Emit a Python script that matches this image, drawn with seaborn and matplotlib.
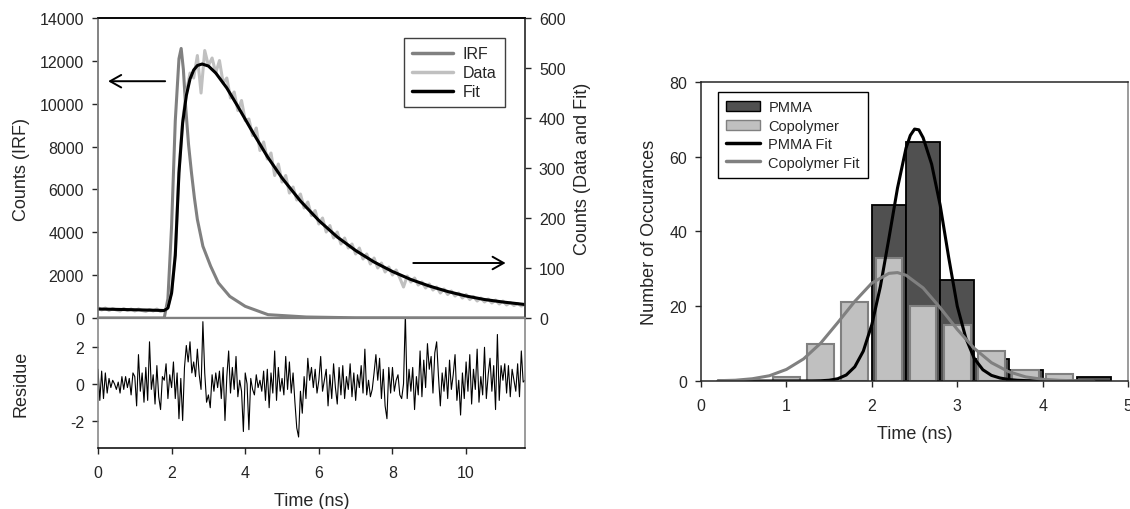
import numpy as np
import seaborn as sns
import matplotlib
matplotlib.use("Agg")
import matplotlib.pyplot as plt
from matplotlib.patches import Patch
from matplotlib.lines import Line2D

# ---- decay trace (left) ----
irf_t = [0, 1.8, 1.9, 2.0, 2.1, 2.2, 2.26, 2.32, 2.38, 2.46, 2.54, 2.62, 2.7,
         2.85, 3.06, 3.27, 3.58, 4.0, 4.62, 5.66, 7.0, 11.6]
irf_counts = [0, 0, 900, 4300, 9200, 12100, 12580, 11600, 9900, 8100, 6780,
              5600, 4600, 3350, 2420, 1640, 1010, 545, 156, 47, 10, 0]

# data sampled every 0.1 ns from 0
data_counts = [
    21, 16, 20, 15, 19, 16, 14, 19, 15, 18,
    14, 18, 15, 13, 17, 14, 18, 13, 15, 22,
    52, 130, 295, 395, 450, 490, 480, 525, 450, 535,
    505, 520, 490, 515, 470, 480, 440, 452, 415, 435,
    395, 398, 365, 380, 335, 352, 318, 330, 285, 308,
    272, 285, 250, 262, 236, 248, 220, 232, 205, 215,
    188, 200, 172, 185, 160, 172, 148, 160, 140, 148,
    128, 140, 118, 128, 108, 120, 100, 110, 92, 102,
    86, 96, 80, 62, 84, 72, 80, 66, 72, 60,
    68, 56, 62, 50, 58, 47, 54, 44, 50, 40,
    47, 37, 43, 34, 40, 32, 38, 30, 36, 28,
    34, 26, 31, 25, 29, 24, 27]

fit_t = [0, 1.0, 1.8, 1.9, 2.0, 2.1, 2.2, 2.3, 2.4, 2.5, 2.6, 2.7, 2.83, 3.0,
         3.2, 3.5, 3.8, 4.2, 4.6, 5.0, 5.5, 6.0, 6.5, 7.0, 7.5, 8.0, 8.5,
         9.0, 9.5, 10.0, 10.5, 11.0, 11.6]
fit_counts = [18, 16.5, 15, 20, 50, 125, 290, 390, 445, 478, 496, 505, 508, 504,
              490, 460, 423, 372, 323, 280, 234, 195, 162, 135, 112, 93, 77,
              64, 53, 44, 37, 32, 27]

# weighted residuals every 0.05 ns from 0
residue = [
    0.8, -0.9, 0.7, -0.8, 0.6, -0.5, 0.3, -0.2, 0.2, 0.0, -0.3, 0.1, -0.5, 0.4, -0.3, 0.4, -0.2, 0.3, -0.6, 0.6,
    0.4, -1.2, 1.6, -0.4, 0.6, -1.0, 0.9, -0.9, 2.3, -0.3, 0.5, -1.1, 1.0, -0.7, -1.4, 0.4, 0.2, 1.1, -0.8, 0.5,
    -0.2, 1.2, -0.8, 0.6, -1.9, 0.3, -2.0, 0.9, 2.1, 1.2, 2.3, 0.6, 1.2, 0.4, 1.9, 0.5, -0.3, 3.4, 0.6, -1.0,
    -0.6, -1.3, 0.5, -0.4, 0.6, -0.2, 0.7, -0.8, 0.9, -2.0, 0.4, 1.8, -0.5, 0.9, -0.3, 1.5, -0.7, 0.2, -0.4, -2.6,
    0.6, 0.0, -2.5, 0.3, -0.3, -0.6, 0.5, -0.2, 0.2, -0.4, 0.7, -0.9, 0.8, -1.3, 0.6, -0.5, 1.8, -0.9, 0.9, -0.4,
    0.3, -0.6, 1.5, -0.3, 1.2, -0.5, 0.6, -1.0, -2.4, -2.9, -0.4, -1.6, 0.4, -0.8, 1.4, 0.2, 0.9, -0.2, 0.8, -0.5,
    0.2, 1.5, -0.4, 0.2, 0.8, -1.2, 0.5, -0.8, 1.1, -0.2, -1.1, 0.9, -0.6, 1.0, -0.8, 0.4, -0.3, 1.1, -0.7, 0.6,
    -0.9, 0.5, -0.2, 1.0, -0.5, 1.9, -0.6, 0.2, -0.7, -0.3, 0.6, 1.6, 0.2, 1.4, -0.8, 0.8, -1.2, -1.9, 0.9, -0.5,
    0.9, -0.4, 0.2, 0.5, -0.6, -0.8, 0.0, 3.8, -0.8, 0.8, -0.4, 0.9, -1.4, 0.4, -0.6, 1.8, -0.7, 1.3, -0.2, 2.2,
    0.8, 1.5, -0.5, 1.7, 2.3, 0.4, -1.2, 0.6, -0.4, 0.9, -0.8, 1.3, -0.3, 0.5, 1.6, -0.9, 0.2, -1.7, 0.6, -0.8,
    1.2, -0.4, 1.6, -1.1, 0.8, -0.3, 1.9, -1.0, 0.4, -0.6, 2.0, -0.8, 0.5, 1.4, -0.4, 1.0, -1.4, 2.7, -0.9, 1.0,
    0.2, 1.1, -0.5, 1.0, -0.7, 0.8, 0.2, -0.4, 1.1, -0.7, 1.8, 0.1, 0.2]

# ---- lifetime histogram (right) ----
pmma_centers = [2.2, 2.6, 3.0, 3.4, 3.8, 4.2, 4.6]
pmma_counts = [47, 64, 27, 6, 3, 0, 1]
pmma_edges = [2.0, 2.4, 2.8, 3.2, 3.6, 4.0, 4.4, 4.8]
copo_centers = [1.0, 1.4, 1.8, 2.2, 2.6, 3.0, 3.4, 3.8, 4.2]
copo_counts = [1, 10, 21, 33, 20, 15, 8, 3, 2]
copo_edges = [0.8, 1.2, 1.6, 2.0, 2.4, 2.8, 3.2, 3.6, 4.0, 4.4]

pmma_fit_t = [0.2, 0.6, 1.0, 1.3, 1.4, 1.5, 1.6, 1.7, 1.8, 1.9, 2.0, 2.1, 2.2, 2.3,
              2.4, 2.45, 2.5, 2.55, 2.6, 2.7, 2.8, 2.9, 3.0, 3.1, 3.2, 3.3, 3.4,
              3.5, 3.6, 3.7, 3.8, 4.0, 4.6]
pmma_fit = [0, 0, 0, 0.02, 0.06, 0.2, 0.6, 1.6, 3.8, 8.0, 15.1, 25.3, 38.2, 51.6,
            62.3, 65.7, 67.4, 67.2, 65.1, 58, 47, 33, 20, 11.5, 6, 3, 1.5,
            0.8, 0.4, 0.2, 0.1, 0.03, 0]
copo_fit_t = [0.2, 0.4, 0.6, 0.8, 1.0, 1.2, 1.4, 1.6, 1.8, 2.0, 2.2, 2.3, 2.4, 2.6,
              2.8, 3.0, 3.2, 3.4, 3.6, 3.8, 4.0, 4.2, 4.4, 4.6]
copo_fit = [0.08, 0.2, 0.6, 1.4, 3.1, 5.9, 10.1, 15.6, 21.3, 26.2, 28.8, 29.0, 28.3,
            24.9, 19.6, 13.8, 8.7, 4.9, 2.5, 1.1, 0.45, 0.17, 0.05, 0.01]

sns.set_style("ticks")
plt.rcParams['font.family'] = ['Liberation Sans', 'DejaVu Sans']
plt.rcParams['axes.linewidth'] = 1.1
plt.rcParams['axes.unicode_minus'] = False
GRAY = '#808080'
LIGHT = '#c0c0c0'
TICK_FS = 11.5
LABEL_FS = 13

fig = plt.figure(figsize=(11.3, 5.1), dpi=100)
ax_top = fig.add_axes([0.0867, 0.3745, 0.3779, 0.5882])
ax_res = fig.add_axes([0.0867, 0.1196, 0.3779, 0.2549])
ax_hist = fig.add_axes([0.6204, 0.251, 0.3779, 0.5863])
ax_cnt = ax_top.twinx()

# decay curves
sns.lineplot(x=irf_t, y=irf_counts, ax=ax_top, color=GRAY, linewidth=2.2)
data_t = np.round(np.arange(len(data_counts)) * 0.1, 2)
sns.lineplot(x=data_t, y=data_counts, ax=ax_cnt, color=LIGHT, linewidth=2.2)
sns.lineplot(x=fit_t, y=fit_counts, ax=ax_cnt, color='black', linewidth=2.2)

ax_top.set_xlim(0, 11.6)
ax_top.set_ylim(0, 14000)
ax_cnt.set_ylim(0, 600)
ax_top.set_yticks(range(0, 14001, 2000))
ax_cnt.set_yticks(range(0, 601, 100))
ax_top.tick_params(axis='x', bottom=False, labelbottom=False)
ax_top.tick_params(axis='y', direction='out', length=4, width=1, pad=6, labelsize=TICK_FS)
ax_cnt.tick_params(axis='y', direction='out', length=4, width=1, pad=6, labelsize=TICK_FS)
ax_top.set_ylabel('Counts (IRF)', fontsize=LABEL_FS)
ax_top.yaxis.set_label_coords(-0.16, 0.5)
ax_cnt.set_ylabel('Counts (Data and Fit)', fontsize=LABEL_FS, labelpad=6)
for a in (ax_top, ax_cnt):
    a.spines['left'].set_color(GRAY)
    a.spines['right'].set_color('#404040')
    a.spines['bottom'].set_color(GRAY)
    a.spines['bottom'].set_linewidth(1.6)
    a.spines['top'].set_color('black')

ax_cnt.annotate('', xy=(0.2, 473.6), xytext=(1.9, 473.6),
                arrowprops=dict(arrowstyle='->,head_length=0.8,head_width=0.45', lw=1.4, color='black'))
ax_cnt.annotate('', xy=(11.15, 110), xytext=(8.49, 110),
                arrowprops=dict(arrowstyle='->,head_length=0.8,head_width=0.45', lw=1.4, color='black'))

handles = [Line2D([], [], color=GRAY, lw=2.5, label='IRF'),
           Line2D([], [], color=LIGHT, lw=2.5, label='Data'),
           Line2D([], [], color='black', lw=2.5, label='Fit')]
leg = ax_cnt.legend(handles=handles, loc='upper right', bbox_to_anchor=(0.952, 0.932),
                    borderaxespad=0, fontsize=11.5, frameon=True, fancybox=False,
                    framealpha=1, edgecolor='#404040', handlelength=2.6,
                    labelspacing=0.25, handletextpad=0.6, borderpad=0.5)
leg.get_frame().set_linewidth(1.0)

# residuals
res_t = np.round(np.arange(len(residue)) * 0.05, 2)
sns.lineplot(x=res_t, y=residue, ax=ax_res, color='black', linewidth=0.8)
ax_res.set_xlim(0, 11.6)
ax_res.set_ylim(-3.5, 3.6)
ax_res.set_yticks([-2, 0, 2])
ax_res.set_xticks(range(0, 11, 2))
ax_res.tick_params(axis='both', direction='out', length=4, width=1, labelsize=TICK_FS)
ax_res.tick_params(axis='x', pad=8)
ax_res.tick_params(axis='y', pad=6)
ax_res.spines['top'].set_visible(False)
ax_res.spines['left'].set_color(GRAY)
ax_res.spines['right'].set_color(GRAY)
ax_res.spines['bottom'].set_color('black')
ax_res.set_ylabel('Residue', fontsize=LABEL_FS)
ax_res.yaxis.set_label_coords(-0.16, 0.5)
ax_res.set_xlabel('Time (ns)', fontsize=LABEL_FS, labelpad=9)

# histogram
sns.histplot(x=pmma_centers, weights=pmma_counts, bins=pmma_edges, ax=ax_hist,
             color='#505050', edgecolor='black', linewidth=1.3, alpha=1)
sns.histplot(x=copo_centers, weights=copo_counts, bins=copo_edges, shrink=0.78,
             ax=ax_hist, color=LIGHT, edgecolor=GRAY, linewidth=1.5, alpha=1)
sns.lineplot(x=pmma_fit_t, y=pmma_fit, ax=ax_hist, color='black', linewidth=2.2)
sns.lineplot(x=copo_fit_t, y=copo_fit, ax=ax_hist, color=GRAY, linewidth=2.2)

ax_hist.set_xlim(0, 5)
ax_hist.set_ylim(0, 80)
ax_hist.set_xticks(range(0, 6))
ax_hist.set_yticks(range(0, 81, 20))
ax_hist.tick_params(axis='both', direction='out', length=4, width=1, labelsize=TICK_FS)
ax_hist.tick_params(axis='x', pad=8)
ax_hist.tick_params(axis='y', pad=6)
ax_hist.spines['right'].set_visible(True)
ax_hist.spines['top'].set_visible(True)
ax_hist.spines['right'].set_color(GRAY)
ax_hist.set_xlabel('Time (ns)', fontsize=LABEL_FS, labelpad=9)
ax_hist.set_ylabel('Number of Occurances', fontsize=LABEL_FS, labelpad=8)

hist_handles = [Patch(facecolor='#505050', edgecolor='black', label='PMMA'),
                Patch(facecolor=LIGHT, edgecolor=GRAY, label='Copolymer'),
                Line2D([], [], color='black', lw=2.5, label='PMMA Fit'),
                Line2D([], [], color=GRAY, lw=2.5, label='Copolymer Fit')]
leg2 = ax_hist.legend(handles=hist_handles, loc='upper left', bbox_to_anchor=(0.04, 0.965),
                      borderaxespad=0, fontsize=10.5, frameon=True, fancybox=False,
                      framealpha=1, edgecolor='black', handlelength=2.3,
                      labelspacing=0.3, handletextpad=0.6, borderpad=0.55)
leg2.get_frame().set_linewidth(1.0)

fig.savefig('out.png', dpi=100)
